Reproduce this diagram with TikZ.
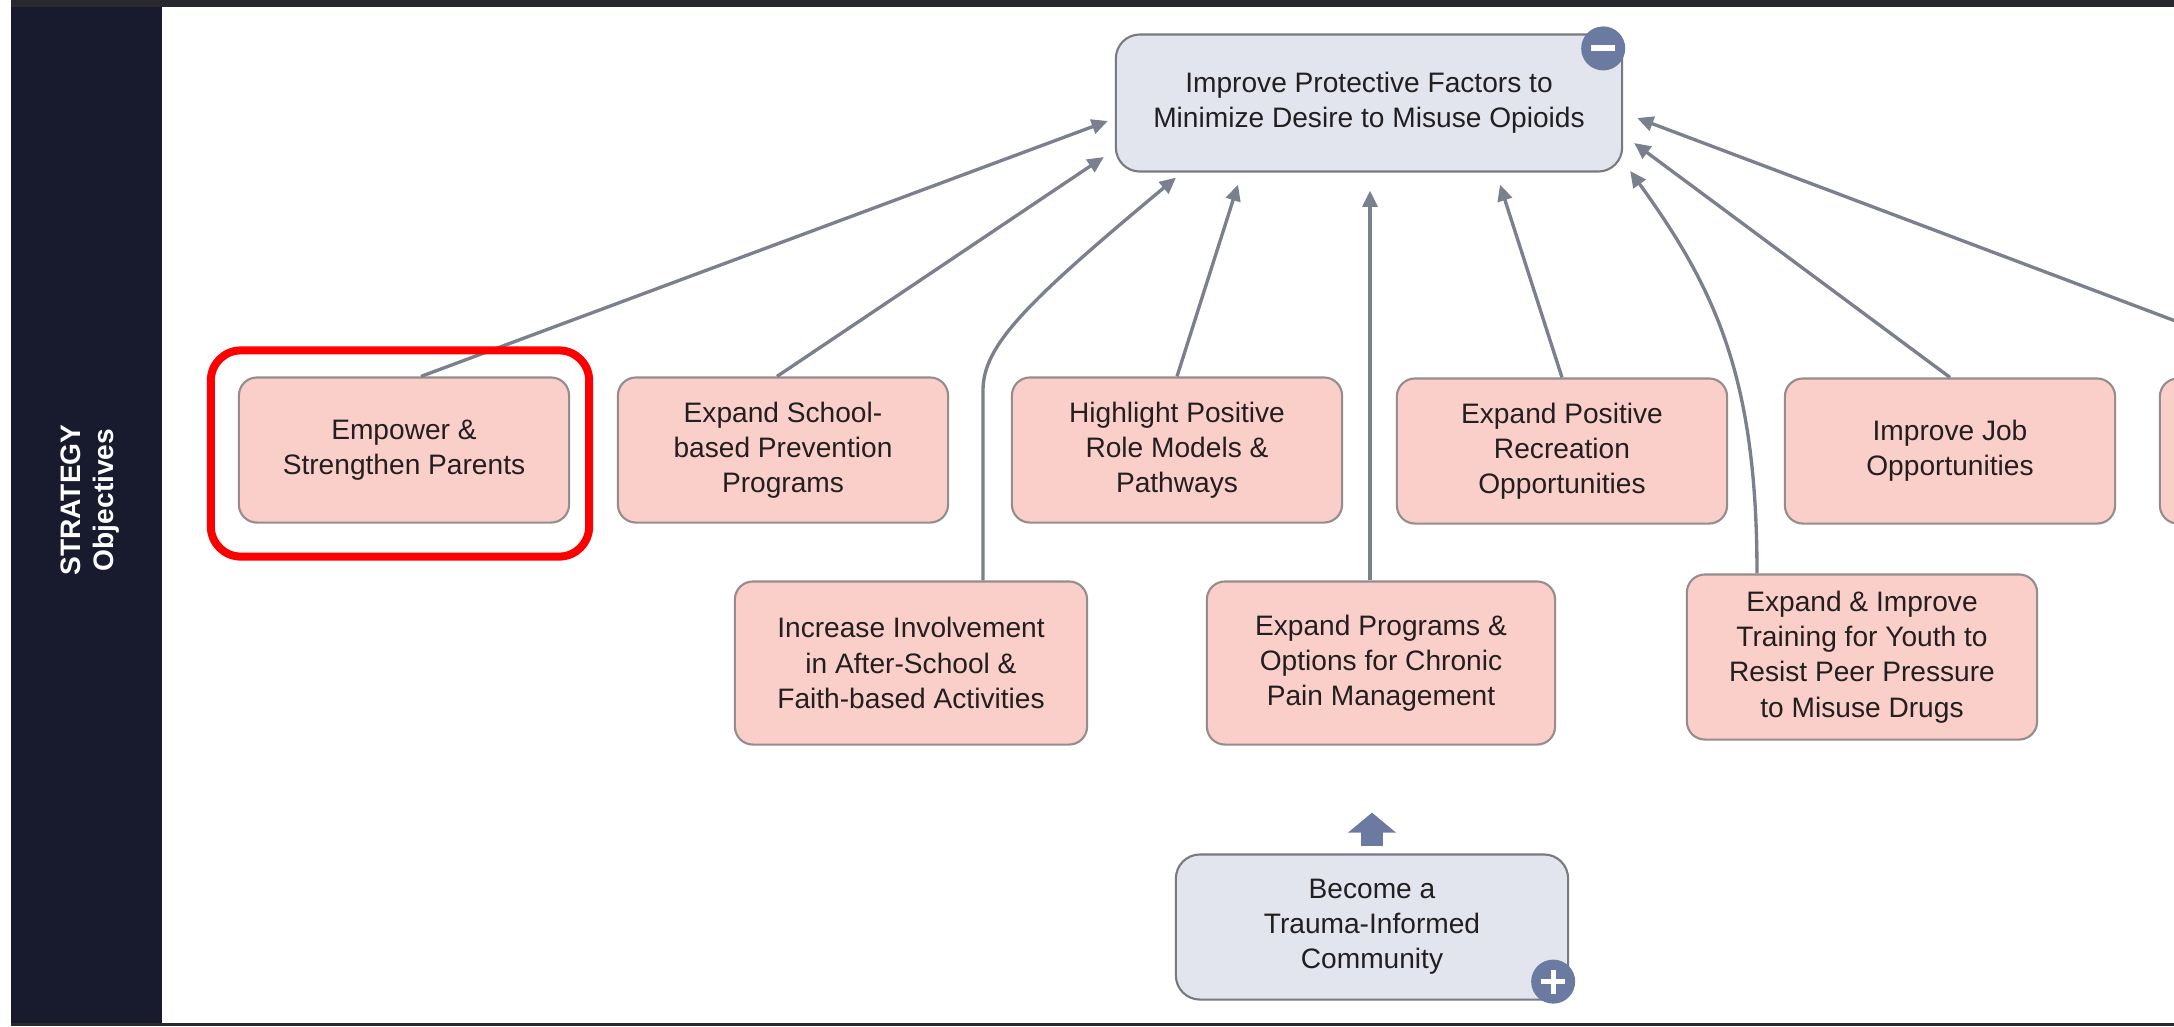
\documentclass[tikz,border=0pt]{standalone}
\usepackage{fontspec}
\setmainfont{Liberation Sans}
\usetikzlibrary{arrows.meta,positioning,calc}
\definecolor{barnavy}{RGB}{24,26,46}
\definecolor{framedark}{RGB}{40,40,48}
\definecolor{objpink}{RGB}{250,207,201}
\definecolor{goalgray}{RGB}{226,229,238}
\definecolor{edgegray}{RGB}{150,140,140}
\definecolor{goaledge}{RGB}{120,122,128}
\definecolor{linkgray}{RGB}{122,128,142}
\definecolor{iconblue}{RGB}{106,122,160}
\definecolor{textdark}{RGB}{35,31,32}

\begin{document}
\begin{tikzpicture}[
    x=0.01cm, y=0.01cm,
    obj/.style={rectangle, rounded corners=0.18cm, draw=edgegray, line width=0.6pt, fill=objpink,
        minimum width=3.3cm, minimum height=1.45cm, inner sep=1pt, align=center,
        text=textdark, font=\fontsize{8}{10}\selectfont},
    goal/.style={obj, rounded corners=0.24cm, draw=goaledge, fill=goalgray},
    icon/.style={circle, fill=iconblue, minimum size=0.44cm, inner sep=0pt},
    link/.style={-{Triangle[length=4.6pt,width=4.2pt]}, draw=linkgray, line width=0.95pt},
    uparr/.style={-{Triangle[length=0.2cm,width=0.47cm]}, draw=iconblue, line width=0.22cm},
    hilite/.style={draw=red, line width=0.08cm, rounded corners=0.3cm},
    bartext/.style={rotate=90, text=white, align=center, font=\bfseries\fontsize{8}{9.2}\selectfont}
]
\useasboundingbox (0,0) rectangle (2174,-1026);
\clip (0,0) rectangle (2174,-1026);
\fill[white] (0,0) rectangle (2174,-1026);
\fill[barnavy] (11,0) rectangle (162,-1026);
\fill[framedark] (11,0) rectangle (2174,-7);
\fill[framedark] (11,-1023) rectangle (2174,-1026);
\node[bartext] (lbl) at (90,-500) {STRATEGY\\Objectives};

\node[goal, minimum width=5.06cm, minimum height=1.37cm] (top) at (1369,-103) {Improve Protective Factors to\\Minimize Desire to Misuse Opioids};

\node[obj] (emp) at (404,-450) {Empower \&\\Strengthen Parents};
\node[obj] (sch) at (783,-450) {Expand School-\\based Prevention\\Programs};
\node[obj] (hil) at (1177,-450) {Highlight Positive\\Role Models \&\\Pathways};
\node[obj] (rec) at (1562,-451) {Expand Positive\\Recreation\\Opportunities};
\node[obj] (job) at (1950,-451) {Improve Job\\Opportunities};
\node[obj] (more) at (2325,-451) {};

\node[obj, minimum width=3.52cm, minimum height=1.63cm] (inc) at (911,-663) {Increase Involvement\\in After-School \&\\Faith-based Activities};
\node[obj, minimum width=3.48cm, minimum height=1.63cm] (chr) at (1381,-663) {Expand Programs \&\\Options for Chronic\\Pain Management};
\node[obj, minimum width=3.5cm, minimum height=1.65cm] (trn) at (1862,-657) {Expand \& Improve\\Training for Youth to\\Resist Peer Pressure\\to Misuse Drugs};

\node[goal, minimum width=3.92cm, minimum height=1.45cm] (trauma) at (1372,-927) {Become a\\Trauma-Informed\\Community};

\node[icon] (minus) at ($(top.north east)+(-20,-15)$) {};
\draw[white, line width=0.06cm] ($(minus.center)+(-12,0)$) -- ($(minus.center)+(12,0)$);
\node[icon] (plus) at ($(trauma.south east)+(-16,19)$) {};
\draw[white, line width=0.05cm] ($(plus.center)+(-12,0)$) -- ($(plus.center)+(12,0)$)
    ($(plus.center)+(0,-12)$) -- ($(plus.center)+(0,12)$);

\draw[link] ($(emp.north)+(17,0)$) -- ($(top.west)+(-7,-18)$);
\draw[link] ($(sch.north)+(-6,0)$) -- ($(top.west)+(-11,-54)$);
\draw[link] ($(inc.north)+(72,0)$) -- ++(0,190) .. controls +(0,45) and +(-150,-125) .. ($(top.south)+(-193,-5)$);
\draw[link] (hil.north) -- ($(top.south)+(-131,-12)$);
\draw[link] ($(chr.north)+(-11,0)$) -- ($(top.south)+(1,-18)$);
\draw[link] (rec.north) -- ($(top.south)+(131,-12)$);
\draw[link] ($(trn.north)+(-105,0)$) .. controls +(0,195) and +(86,-119) .. ($(top.east)+(7,-68)$);
\draw[link] (job.north) -- ($(top.east)+(11,-40)$);
\draw[link] (more.north) -- ($(top.east)+(14,-15)$);

\draw[uparr, shorten <=0.07cm, shorten >=0.67cm] (trauma.north) -- (trauma.north |- chr.south);

\draw[hilite] ($(emp.north west)+(-27,26)$) rectangle ($(emp.south east)+(19,-33)$);
\end{tikzpicture}
\end{document}
